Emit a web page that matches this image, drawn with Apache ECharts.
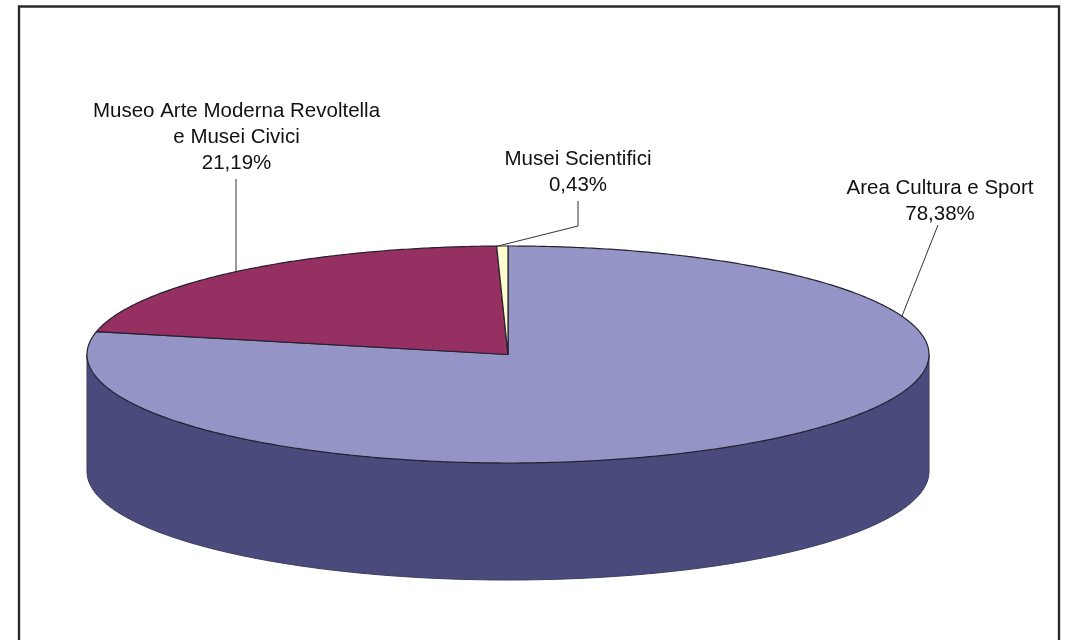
<!DOCTYPE html>
<html><head><meta charset="utf-8">
<style>html,body{margin:0;padding:0;background:#fff}#c{width:1065px;height:640px}</style>
<script src="https://cdn.jsdelivr.net/npm/echarts@6/dist/echarts.min.js"></script>
</head><body><div id="c"></div>
<script>
const categories = ['Area Cultura e Sport', 'Museo Arte Moderna Revoltella\ne Musei Civici', 'Musei Scientifici'];
const values = [78.38, 21.19, 0.43];
const valueLabels = ['78,38%', '21,19%', '0,43%'];
const topColors = ['#9494c6', '#962f62', '#fdfbcc'];
const sideColors = ['#4b4a7d', '#4f1a35', '#a8a67f'];

const CX = 508, CY = 354.5, RX = 421, RY = 108.5, DEPTH = 117;
const labelLayout = [
  {x: 940, y: 175, leader: [[902, 316], [938, 225]]},
  {x: 236.5, y: 98, leader: [[236, 271], [236, 179]]},
  {x: 578, y: 146, leader: [[498, 246], [578, 226], [578, 201]]}
];

const total = values.reduce((a, b) => a + b, 0);
const rim = (deg, dy) => {
  const r = deg * Math.PI / 180;
  return [CX + RX * Math.sin(r), CY - RY * Math.cos(r) + (dy || 0)];
};
const arc = (from, to, dy) => {
  const pts = [], n = Math.max(2, Math.ceil(Math.abs(to - from) * 2));
  for (let i = 0; i <= n; i++) pts.push(rim(from + (to - from) * i / n, dy));
  return pts;
};
const starts = [];
values.reduce((acc, v, i) => { starts[i] = acc; return acc + v; }, 0);

function renderItem(params, api) {
  const i = params.dataIndex;
  const a0 = api.value(1) / total * 360;
  const a1 = a0 + api.value(0) / total * 360;
  const children = [];
  const sFrom = Math.max(a0, 90), sTo = Math.min(a1, 270);
  if (sTo > sFrom) {
    children.push({
      type: 'polygon',
      shape: {points: arc(sFrom, sTo).concat(arc(sTo, sFrom, DEPTH))},
      style: {fill: sideColors[i], stroke: '#3a3a5c', lineWidth: 1}
    });
  }
  children.push({
    type: 'polygon',
    shape: {points: [[CX, CY]].concat(arc(a0, a1))},
    style: {fill: topColors[i], stroke: '#24222e', lineWidth: 1.2, lineJoin: 'round'}
  });
  const lay = labelLayout[i];
  children.push({
    type: 'polyline',
    shape: {points: lay.leader},
    style: {fill: null, stroke: '#333', lineWidth: 1}
  });
  children.push({
    type: 'text',
    style: {
      x: lay.x, y: lay.y,
      text: categories[i] + '\n' + valueLabels[i],
      textAlign: 'center', textVerticalAlign: 'top',
      font: '20.5px "Liberation Sans", Arial, sans-serif',
      lineHeight: 26, fill: '#111'
    }
  });
  return {type: 'group', children};
}

const chart = echarts.init(document.getElementById('c'), null, {renderer: 'canvas'});
chart.setOption({
  animation: false,
  backgroundColor: '#fff',
  tooltip: {show: false},
  graphic: [
    {type: 'polyline', silent: true, z: 10,
     shape: {points: [[19, 640], [19, 6.5], [1059, 6.5], [1059, 640]]},
     style: {fill: null, stroke: '#2a2a2a', lineWidth: 2.4}}
  ],
  series: [{
    type: 'custom',
    coordinateSystem: 'none',
    renderItem,
    data: values.map((v, i) => [v, starts[i]])
  }]
});
</script></body></html>
